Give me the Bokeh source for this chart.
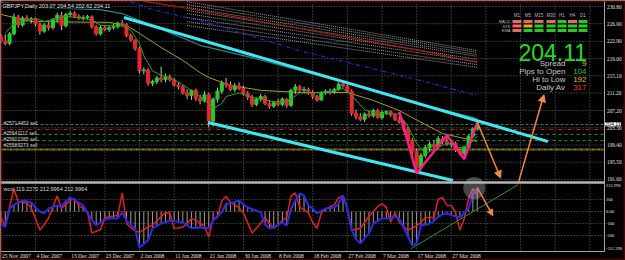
from bokeh.plotting import figure
from bokeh.models import (Range1d, Label, LabelSet, Arrow, NormalHead, BoxAnnotation, ColumnDataSource)
from bokeh.embed import file_html
from bokeh.resources import INLINE

# ---------------- data ----------------
opens = [224.0, 223.0, 222.4, 224.6, 228.4, 226.6, 228.2, 227.8, 228.0, 226.8,
         225.2, 226.6, 226.0, 227.8, 228.8, 226.4, 229.0, 229.3, 228.6, 228.2,
         228.3, 228.5, 226.2, 224.6, 226.0, 225.6, 226.0, 226.2, 227.0, 226.6,
         224.2, 223.2, 221.2, 216.2, 216.4, 213.4, 213.8, 214.6, 214.2, 214.8,
         214.2, 213.0, 212.6, 211.2, 210.6, 211.8, 210.0, 209.4, 210.8, 204.8,
         209.8, 211.6, 213.4, 213.0, 212.0, 212.8, 212.2, 211.0, 210.2, 208.6,
         209.8, 210.4, 208.8, 208.2, 209.0, 208.6, 209.8, 208.4, 211.8, 212.6,
         211.8, 212.0, 211.2, 210.4, 209.6, 211.2, 211.6, 211.4, 212.0, 213.2,
         212.8, 211.6, 206.6, 205.8, 205.2, 206.4, 206.0, 207.2, 205.6, 206.8,
         207.0, 206.2, 205.2, 204.6, 203.0, 200.4, 198.0, 194.2, 197.0, 198.8,
         199.6, 199.0, 200.8, 200.2, 199.6, 199.8, 198.2, 197.4, 198.8, 201.4,
         203.07]
highs = [224.6, 224.5, 225.0, 229.2, 228.9, 228.6, 228.8, 228.4, 228.3, 227.2,
         227.0, 227.2, 228.2, 229.4, 229.6, 229.4, 229.8, 229.7, 229.0, 228.8,
         228.9, 228.8, 226.6, 226.6, 226.6, 226.4, 226.8, 227.4, 227.8, 227.0,
         224.6, 223.4, 221.6, 217.0, 216.8, 214.2, 215.0, 217.2, 215.6, 215.4,
         214.6, 213.6, 213.0, 212.0, 212.0, 212.2, 210.8, 211.6, 211.2, 210.2,
         212.4, 214.0, 214.6, 213.8, 213.4, 213.6, 212.8, 211.6, 210.8, 210.2,
         211.0, 210.8, 209.6, 209.4, 209.8, 210.2, 210.0, 212.2, 213.2, 213.0,
         212.6, 212.4, 211.8, 210.8, 211.6, 212.0, 212.2, 212.4, 213.6, 214.0,
         213.2, 212.0, 207.4, 206.6, 206.8, 207.2, 207.6, 207.6, 207.2, 207.2,
         207.2, 206.6, 206.9, 205.0, 203.6, 201.0, 198.6, 197.6, 199.4, 200.2,
         200.4, 201.4, 201.4, 201.6, 200.4, 200.2, 198.6, 199.2, 201.8, 203.4,
         204.54]
lows = [222.5, 222.0, 222.0, 224.2, 226.0, 226.2, 227.4, 227.0, 226.2, 224.4,
        224.8, 225.4, 225.6, 227.2, 225.4, 226.0, 228.4, 228.2, 227.8, 227.6,
        227.8, 225.8, 224.2, 224.2, 225.2, 225.0, 225.6, 225.8, 226.2, 223.8,
        222.8, 220.8, 215.6, 215.4, 212.8, 212.8, 213.2, 213.6, 213.6, 213.8,
        212.6, 212.0, 210.8, 209.8, 209.6, 209.4, 208.6, 209.0, 203.4, 203.6,
        209.0, 211.0, 212.4, 211.6, 211.4, 211.8, 210.6, 209.6, 208.0, 208.2,
        209.2, 208.4, 207.6, 207.8, 208.2, 208.2, 207.8, 208.0, 211.0, 211.2,
        211.2, 210.8, 209.8, 209.2, 209.4, 210.8, 210.8, 211.0, 211.6, 212.4,
        211.2, 206.0, 205.2, 204.8, 204.6, 205.6, 205.6, 205.4, 205.2, 206.2,
        205.8, 204.8, 204.2, 202.4, 199.8, 197.4, 193.0, 193.6, 196.4, 197.8,
        198.6, 198.6, 199.6, 199.2, 198.8, 197.8, 197.0, 196.2, 198.4, 201.0,
        202.62]
closes = [223.0, 222.4, 224.6, 228.4, 226.6, 228.2, 227.8, 228.0, 226.8, 225.2,
          226.6, 226.0, 227.8, 228.8, 226.4, 229.0, 229.3, 228.6, 228.2, 228.3,
          228.5, 226.2, 224.6, 226.0, 225.6, 226.0, 226.2, 227.0, 226.6, 224.2,
          223.2, 221.2, 216.2, 216.4, 213.4, 213.8, 214.6, 214.2, 214.8, 214.2,
          213.0, 212.6, 211.2, 210.6, 211.8, 210.0, 209.4, 210.8, 204.8, 209.8,
          211.6, 213.4, 213.0, 212.0, 212.8, 212.2, 211.0, 210.2, 208.6, 209.8,
          210.4, 208.8, 208.2, 209.0, 208.6, 209.8, 208.4, 211.8, 212.6, 211.8,
          212.0, 211.2, 210.4, 209.6, 211.2, 211.6, 211.4, 212.0, 213.2, 212.8,
          211.6, 206.6, 205.8, 205.2, 206.4, 206.0, 207.2, 205.6, 206.8, 207.0,
          206.2, 205.2, 204.6, 203.0, 200.4, 198.0, 194.2, 197.0, 198.8, 199.6,
          199.0, 200.8, 200.2, 199.6, 199.8, 198.2, 197.4, 198.8, 201.4, 203.07,
          204.11]

# CCI indicator (red fast, blue slow)
cci_fast = [-50, -117, 40, 190, 80, 75, 70, 30, -60, -155,
            -110, -55, 40, 130, 25, 60, 95, 105, 50, 25,
            0, -180, -165, -150, -50, -45, -40, -30, 155, -100,
            -135, -160, -175, -150, -130, -115, -80, -40, -10, -15,
            -140, -138, -130, -100, -60, -70, -100, -120, -215, -60,
            -50, 90, 125, 75, 55, 30, -10, -95, -180, -140,
            -95, -50, -100, -140, -110, -75, -50, 130, 155, 35,
            15, -10, -90, -140, -10, 20, 40, 55, 115, 130,
            25, -155, -150, -140, -90, -40, 0, 40, 65, 35,
            -90, -10, -90, -125, -155, -140, -120, -90, -50, -50,
            -50, 105, 115, 50, 50, -10, -155, -60, 110, 190,
            135]
cci_slow = [-100, -130, 25, 55, 75, 90, 85, 75, 30, 0,
            -15, 25, 40, 50, 40, 90, 115, 95, 75, 50,
            -15, -70, -115, -90, -70, -58, -58, -58, -10, -75,
            -110, -145, -300, -270, -240, -140, -120, -100, -90, -75,
            -80, -85, -92, -115, -140, -135, -133, -138, -140, -75,
            -40, -8, 65, 67, 80, 92, 60, 33, 20, 8,
            -8, -110, -140, -133, -110, -92, -117, 20, 90, 150,
            133, 50, 25, -15, 5, 25, 30, 33, 67, 133,
            25, -150, -230, -267, -220, -183, -100, -80, -58, -58,
            -58, -40, -60, -133, -210, -283, -267, -117, -110, -100,
            -80, -45, -25, -17, -30, -40, -50, -15, 25, 150,
            195]

# moving averages (bar index, price)
ma_fast_x = [1, 3, 8, 10, 15, 21, 23, 28, 30, 32, 33, 35, 37, 39, 42, 43, 46, 48, 49, 51, 52,
             55, 59, 63, 66, 69, 72, 75, 79, 81, 84, 87, 89, 92, 94, 96, 98, 100, 103, 106, 108, 110]
ma_fast_y = [224.8, 226.8, 228.1, 227.4, 228.6, 227.8, 226.5, 226.4, 225.4, 222.4, 219.6, 216.2,
             215.2, 214.7, 213.1, 212.4, 210.4, 208.8, 207.6, 208.8, 210.4, 211.2, 210.0, 209.2,
             209.2, 211.2, 211.2, 211.4, 212.2, 210.6, 207.4, 206.3, 206.5, 206.4, 203.6, 199.8,
             197.4, 198.4, 199.8, 198.8, 199.2, 201.4]
ma_mid_x = [0, 7, 25, 29, 32, 37, 42, 46, 48, 53, 60, 69, 80, 86, 92, 95, 102, 110]
ma_mid_y = [229.0, 227.4, 227.2, 226.5, 224.7, 221.5, 218.6, 215.8, 214.7, 212.9, 211.8, 211.3,
            211.3, 209.5, 207.2, 205.6, 202.0, 200.2]
ma_teal_x = [0, 8, 23, 28, 35, 46, 58, 69, 86, 97, 110]
ma_teal_y = [231.8, 230.6, 230.1, 229.2, 226.5, 222.0, 219.2, 216.3, 211.8, 208.6, 205.4]
ma_blue_x = [30, 35, 46, 69, 97, 110]
ma_blue_y = [231.8, 230.1, 227.6, 220.8, 214.0, 210.6]
ma_red_x = [33, 46, 97, 110]
ma_red_y = [232.0, 229.9, 220.8, 218.1]
ribbon_x = [43, 110]
ribbon_start = [231.9, 231.25, 230.6, 229.9, 229.2, 228.3, 227.4, 226.5]
ribbon_end = [220.8, 220.4, 219.9, 219.5, 218.8, 218.3, 217.6, 217.0]

# drawn objects
channel_up_x, channel_up_y = [28.4, 126.3], [228.3, 200.2]
channel_lo_x, channel_lo_y = [47.8, 104.4], [204.5, 191.35]
zigzag_x = [92, 96, 103, 107, 110]
zigzag_y = [206.9, 193.0, 201.6, 196.2, 204.54]
arrow_down = (110, 204.6, 115.4, 191.9)
arrow_up = (119.6, 191.2, 125.4, 210.8)
ind_arrow = (110, 200, 113.6, -35)
ind_trend_x, ind_trend_y = [94.7, 119.5], [-310, 225]
ind_circle = (109.3, 195)

orders = [204.04, 202.9, 201.8, 200.4, 198.4]
order_labels = ["#25714453 sell", "#25641117 sell", "#25602385 sell", "#25589273 sell"]

date_bars = [0, 8, 16, 24, 32, 40, 48, 56, 64, 72, 80, 88, 96, 104]
date_labels = ["25 Nov 2007", "4 Dec 2007", "13 Dec 2007", "23 Dec 2007", "2 Jan 2008",
               "11 Jan 2008", "21 Jan 2008", "30 Jan 2008", "8 Feb 2008", "18 Feb 2008",
               "27 Feb 2008", "7 Mar 2008", "17 Mar 2008", "27 Mar 2008"]
grid_bars = date_bars + [112, 120, 128, 136]
price_levels = [230.80, 226.90, 222.90, 219.00, 215.10, 211.20, 207.20, 203.30, 199.40, 195.50, 191.60]
ind_levels = [212.9964, 100, 0, -100, -200, -311.398]
ind_level_labels = ["212.996", "100", "0.00", "-100", "-200", "-311.398"]
last_price = 204.11

tf_names = ["M1", "M5", "M15", "M30", "H1", "H4", "D1"]
row_names = ["MACD", "STR", "EMA"]
status = [["r", "r", "r", "r", "g", "r", "g"],
          ["r", "y", "g", "g", "g", "g", "g"],
          ["r", "g", "g", "g", "g", "g", "g"]]
stats = [("Spread", "9", "#e8c000"), ("Pips to Open", "104", "#22cc22"),
         ("Hi to Low", "192", "#e8c000"), ("Daily Av", "317", "#ff3030")]

# ---------------- layout: frame = whole canvas ----------------
W, H = 625, 260
PXB = 4.33                # pixels per bar
PPY = 4.41                # pixels per price unit (main panel)
PPI = 0.12                # pixels per indicator unit
X0 = -0.1
X1 = X0 + W / PXB
PY_TOP = 230.8 + 6 / PPY
PY_BOT = PY_TOP - H / PPY
IV_TOP = 211 / PPI
IV_BOT = -(H - 211) / PPI


def bx(px):
    return X0 + px / PXB


def by(py):
    return PY_TOP - py / PPY


def ind_to_main(v):
    return PY_BOT + (v - IV_BOT) * (PY_TOP - PY_BOT) / (IV_TOP - IV_BOT)


FONT = "Liberation Sans"
GRID = "#6a6a6a"
AXC = "#a8a8a8"
XR = bx(604)              # right edge of the plotting area (price scale line)

p = figure(width=W, height=H, output_backend="svg", toolbar_location=None,
           x_range=Range1d(X0, X1), y_range=Range1d(PY_BOT, PY_TOP),
           x_axis_type=None, y_axis_type=None,
           min_border_left=0, min_border_right=0, min_border_top=0, min_border_bottom=0,
           background_fill_color="black", border_fill_color="black", outline_line_color=None)
p.extra_y_ranges = {"ind": Range1d(IV_BOT, IV_TOP)}

# grids
ng = len(grid_bars)
p.segment(x0=grid_bars, x1=grid_bars, y0=[by(251)] * ng, y1=[by(2)] * ng,
          line_color=GRID, line_dash="1 2", line_width=1)
npl = len(price_levels)
p.segment(x0=[X0] * npl, x1=[XR] * npl, y0=price_levels, y1=price_levels,
          line_color=GRID, line_dash="1 2", line_width=1)
p.segment(x0=[X0] * 4, x1=[XR] * 4, y0=ind_levels[1:5], y1=ind_levels[1:5], y_range_name="ind",
          line_color=GRID, line_dash="1 2", line_width=1)

# ribbon of dotted MAs and other MAs
for s, e in zip(ribbon_start, ribbon_end):
    p.line(ribbon_x, [s, e], line_color="#9a9a9a", line_dash="1 1", line_width=1)
p.line(ma_red_x, ma_red_y, line_color="#b01818", line_width=1.2)
p.line(ma_blue_x, ma_blue_y, line_color="#2828d0", line_width=1.2, line_dash="4 2 1 2")
p.line(ma_teal_x, ma_teal_y, line_color="#1f8a8a", line_width=1.2)
p.line(ma_mid_x, ma_mid_y, line_color="#a8a020", line_width=1)

# order lines
order_cols = ["#1e8a60", "#c82020", "#20a020", "#20a020"]
order_dash = ["3 2", "4 2 1 2", "3 3", "3 3"]
for lv, c, d in zip(orders[:4], order_cols, order_dash):
    p.segment(x0=[X0], x1=[XR], y0=[lv], y1=[lv], line_color=c, line_dash=d, line_width=1)
p.segment(x0=[X0], x1=[XR], y0=[orders[4]], y1=[orders[4]], line_color="#d02020",
          line_dash="3 3", line_width=2)
p.segment(x0=[X0], x1=[XR], y0=[orders[4]], y1=[orders[4]], line_color="#20b020",
          line_dash="3 3", line_dash_offset=3, line_width=2)

# candles
idx = list(range(len(opens)))
body_top = [max(o, c) for o, c in zip(opens, closes)]
body_bot = [min(o, c) for o, c in zip(opens, closes)]
cols = ["#2ec82e" if c > o else ("#e8282e" if c < o else "#b0b0b0") for o, c in zip(opens, closes)]
src = ColumnDataSource(dict(x=idx, h=highs, l=lows, t=body_top, b=body_bot, c=cols))
p.segment(x0="x", y0="l", x1="x", y1="h", source=src, line_color="#c0c0c0", line_width=1)
p.vbar(x="x", top="t", bottom="b", width=0.7, source=src, fill_color="c", line_color="c")

p.line(ma_fast_x, ma_fast_y, line_color="#22a822", line_width=1)

# channel + zigzag + arrows
p.line(channel_up_x, channel_up_y, line_color="#40e6f0", line_width=3)
p.line(channel_lo_x, channel_lo_y, line_color="#40e6f0", line_width=3)
p.line(zigzag_x, zigzag_y, line_color="#ff1a8c", line_width=2.5)
ORG = "#f08a40"
for a in (arrow_down, arrow_up):
    p.add_layout(Arrow(end=NormalHead(size=7, fill_color=ORG, line_color=ORG),
                       x_start=a[0], y_start=a[1], x_end=a[2], y_end=a[3],
                       line_color=ORG, line_width=1.5))

# indicator panel
p.segment(x0=idx, y0=[0] * len(idx), x1=idx, y1=cci_slow, y_range_name="ind",
          line_color="#a89a8a", line_width=1)
p.line(ind_trend_x, ind_trend_y, y_range_name="ind", line_color="#2a9a2a", line_width=1)
p.line(idx, cci_fast, y_range_name="ind", line_color="#e02020", line_width=1.5)
p.line(idx, cci_slow, y_range_name="ind", line_color="#2a2ae8", line_width=2)
p.scatter([ind_circle[0]], [ind_circle[1]], y_range_name="ind", size=22,
          fill_color="#c8c8c8", fill_alpha=0.35, line_color=None)
p.add_layout(Arrow(end=NormalHead(size=6, fill_color=ORG, line_color=ORG),
                   x_start=ind_arrow[0], y_start=ind_to_main(ind_arrow[1]),
                   x_end=ind_arrow[2], y_end=ind_to_main(ind_arrow[3]),
                   line_color=ORG, line_width=1.5))

# black area below the plot (time scale) and panel frame lines
p.quad(left=[X0], right=[X1], bottom=[PY_BOT], top=[by(251)], fill_color="black", line_color=None)
p.segment(x0=[X0], x1=[XR], y0=[by(182)], y1=[by(182)], line_color="#b4b4b4", line_width=2.5)
p.segment(x0=[X0], x1=[XR], y0=[by(251)], y1=[by(251)], line_color=AXC, line_width=1)
p.segment(x0=[XR], x1=[XR], y0=[by(251)], y1=[PY_TOP], line_color=AXC, line_width=1)

# scales (tick labels)
date_src = ColumnDataSource(dict(x=date_bars, y=[by(255.5)] * len(date_bars), t=date_labels))
p.add_layout(LabelSet(x="x", y="y", text="t", source=date_src, text_font=FONT,
                      text_font_size="5.5px", text_color="#e0e0e0", text_align="left",
                      text_baseline="middle", x_offset=1))
p_src = ColumnDataSource(dict(x=[bx(606.5)] * len(price_levels), y=price_levels,
                              t=["%.2f" % v for v in price_levels]))
p.add_layout(LabelSet(x="x", y="y", text="t", source=p_src, text_font=FONT,
                      text_font_size="5.3px", text_color="#e6e6e6", text_align="left",
                      text_baseline="middle"))
i_src = ColumnDataSource(dict(x=[bx(605.5)] * len(ind_levels),
                              y=[ind_to_main(v) for v in ind_levels], t=ind_level_labels))
p.add_layout(LabelSet(x="x", y="y", text="t", source=i_src, text_font=FONT,
                      text_font_size="4.5px", text_color="#e6e6e6", text_align="left",
                      text_baseline="middle"))


def lab(px, pyc, text, size, color, align="left", baseline="middle", bg=None, yval=None):
    kw = {}
    if bg:
        kw["background_fill_color"] = bg
    p.add_layout(Label(x=bx(px), y=by(pyc) if yval is None else yval, text=text, text_font=FONT,
                       text_font_size=size, text_color=color, text_align=align,
                       text_baseline=baseline, **kw))


# texts
lab(2, 5, "GBPJPY,Daily  203.07 204.54 202.62 204.11", "5.5px", "#e8e8e8", bg="black")
lab(3, 188, "wcci 119.2270 212.9964 212.9964", "5.5px", "#d8d8d8")
for t, yy in zip(order_labels, [122, 132, 138, 144]):
    lab(3, yy, t, "5px", "#d0d0d0")
lab(604.5, 0, "%.2f" % last_price, "5.3px", "black", bg="white", yval=last_price)

# status panel
col_x = [516.5, 527.5, 538.5, 550.5, 561.5, 572, 582.5]
row_y = [21, 25.5, 30]
cmap = {"r": "#e86868", "g": "#22cc22", "y": "#e0b000"}
for name, cx in zip(tf_names, col_x):
    lab(cx, 15, name, "4.5px", "#bcbcbc", align="center")
for name, ry in zip(row_names, row_y):
    lab(510, ry, name, "4px", "#bcbcbc", align="right")
bxs, bys, bcs = [], [], []
for r, ry in enumerate(row_y):
    for c, cx in enumerate(col_x):
        bxs.append(bx(cx))
        bys.append(by(ry))
        bcs.append(cmap[status[r][c]])
p.rect(x=bxs, y=bys, width=9, height=3, width_units="screen", height_units="screen",
       fill_color=bcs, line_color=None)

lab(518, 52, "%.2f" % last_price, "23px", "#22dd22", baseline="alphabetic")
for i, (name, val, vc) in enumerate(stats):
    yy = 62.5 + 8 * i
    lab(565, yy, name, "8px", "#c8c8c8", align="right", baseline="alphabetic")
    lab(586, yy, val, "8px", vc, align="right", baseline="alphabetic")

# red window frame
p.add_layout(BoxAnnotation(left=X0, right=X1, top=PY_TOP, bottom=PY_BOT,
                           fill_alpha=0, line_color="#e01010", line_width=4))

open("out.html", "w").write(file_html(p, INLINE))
